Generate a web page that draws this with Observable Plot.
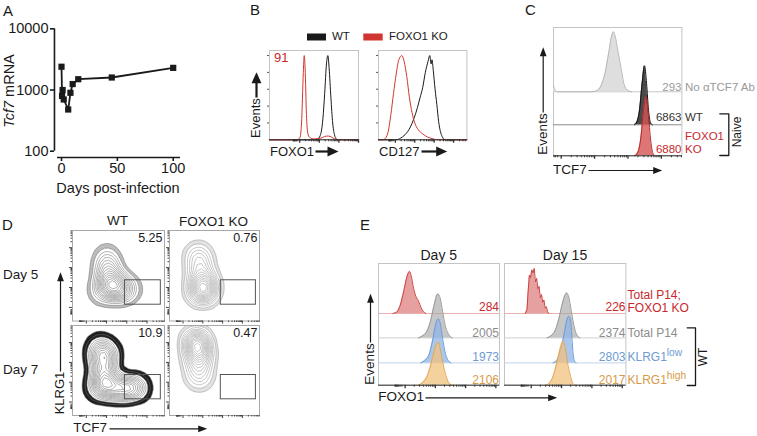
<!DOCTYPE html>
<html><head><meta charset="utf-8">
<script src="https://cdn.jsdelivr.net/npm/d3@7"></script>
<script src="https://cdn.jsdelivr.net/npm/@observablehq/plot@0.6"></script>
<style>
body{margin:0;background:#fff;}
#fig{position:relative;width:757px;height:436px;overflow:hidden;background:#fff;font-family:"Liberation Sans",Arial,Helvetica,sans-serif;}
.t{position:absolute;white-space:nowrap;line-height:1;}
.t sup{font-size:0.85em;vertical-align:0.5em;line-height:0;}
</style></head>
<body><div id="fig"></div>
<script>
// ================= DATA =================
// Panel A: Tcf7 mRNA over time
const tcf7Days = [0, 0.5, 1, 2, 6, 8, 10, 15, 45, 100];
const tcf7Mrna = [2400, 800, 1000, 700, 480, 900, 1250, 1500, 1600, 2300];
const aYTicks = [100, 1000, 10000];
const aXTicks = [0, 50, 100];

// Panel B: histograms [x (% of axis), relative height]
const bFoxo1WT = [[0,0],[50,0],[54,0.01],[57,0.05],[60,0.25],[62,0.55],[64,0.9],[65.6,1],[67,0.85],[69,0.5],[71,0.2],[73,0.06],[75,0.01],[78,0],[100,0]];
const bFoxo1KO = [[0,0],[30,0],[34,0.02],[36,0.2],[38,0.8],[39,1],[40,0.85],[41.5,0.3],[43,0.08],[45,0.03],[50,0.01],[58,0.02],[62,0.04],[66,0.045],[70,0.03],[73,0.01],[78,0],[100,0]];
const bCd127WT = [[0,0],[20,0],[25,0.02],[30,0.06],[36,0.15],[40,0.25],[44,0.38],[47,0.5],[50,0.62],[53,0.8],[56,0.93],[58,1],[59.5,0.9],[60.5,0.95],[62,0.82],[64,0.6],[66,0.42],[68,0.22],[70,0.1],[72,0.04],[75,0],[100,0]];
const bCd127KO = [[0,0],[5,0],[8,0.02],[11,0.1],[14,0.3],[17,0.55],[20,0.78],[23,0.95],[26.4,1],[29,0.93],[32,0.75],[35,0.5],[38,0.32],[41,0.2],[45,0.12],[50,0.07],[56,0.03],[62,0.01],[66,0],[100,0]];
const bFoxo1KOValue = "91";

// Panel C: TCF7 histograms (naive)
const cNoAb = [[0,0.1],[1.5,0.02],[3,0],[30,0],[34,0.02],[37,0.1],[40,0.3],[43,0.65],[45.5,0.95],[46.7,1],[48,0.93],[50,0.7],[53,0.35],[55,0.12],[58,0.02],[61,0]];
const cWT = [[63,0],[65,0.05],[67,0.25],[69,0.7],[70.9,1],[72.5,0.7],[74,0.25],[75.5,0.04],[77,0]];
const cKO = [[63,0],[65.5,0.05],[68,0.3],[70,0.75],[72,1],[73.5,0.8],[75.5,0.3],[77.5,0.04],[79,0]];
const cValues = ["293", "6863", "6880"];
const cNames = ["No αTCF7 Ab", "WT", "FOXO1", "KO"];

// Panel D: contour density seeds (x: TCF7 %, y: KLRG1 %, w: weight)
const dWTDay5 = [{x:37,y:72,w:1.5},{x:38,y:61,w:2.5},{x:40,y:51,w:3},{x:38,y:40,w:3.5},{x:46,y:37,w:4.5},{x:55,y:36,w:3},{x:62,y:35,w:1.5},{x:32,y:32,w:2}];
const dKODay5 = [{x:32,y:75,w:1.5},{x:33,y:64,w:2},{x:35,y:52,w:2},{x:37,y:40,w:3},{x:38,y:32,w:3.5},{x:31,y:33,w:1.5},{x:44,y:37,w:1}];
const dWTDay7 = [{x:30,y:76,w:2.5},{x:32,y:66,w:3.5},{x:34,y:55,w:3},{x:34,y:44,w:3},{x:35,y:34,w:4},{x:45,y:30,w:3},{x:55,y:30,w:3},{x:64,y:31,w:3},{x:72,y:31,w:2},{x:28,y:30,w:2},{x:40,y:70,w:1.5}];
const dKODay7 = [{x:29,y:84,w:2.5},{x:31,y:78,w:3.5},{x:33,y:70,w:2.5},{x:32,y:60,w:2},{x:33,y:50,w:1.5},{x:33,y:40,w:1.2}];
const dGate = {x1: 57, x2: 96, y1: 18, y2: 45};
const dGateValues = ["5.25", "0.76", "10.9", "0.47"];

// Panel E: FOXO1 histograms (Day 5 / Day 15)
const eD5KO = [[12,0],[15,0.03],[18,0.2],[21,0.55],[24,0.92],[25.6,1],[27,0.9],[29,0.6],[31,0.4],[33,0.3],[35,0.15],[37,0.05],[39,0]];
const eD5Total = [[33,0],[36,0.04],[40,0.15],[43,0.38],[46,0.75],[49,1],[51,0.9],[53,0.6],[55,0.3],[58,0.08],[61,0]];
const eD5Low = [[35,0],[38,0.05],[42,0.2],[45,0.55],[48,0.95],[49.6,1],[51,0.9],[53,0.55],[55,0.25],[57,0.08],[60,0]];
const eD5High = [[33,0],[36,0.05],[40,0.2],[43,0.45],[46,0.8],[48,0.97],[49.6,1],[51,0.85],[53,0.55],[55,0.3],[57,0.12],[59,0.03],[61,0]];
const eD15KO = [[17,0],[18.5,0.08],[19.5,0.5],[20.5,0.85],[21.5,0.8],[22.5,0.97],[23.5,0.9],[24.5,1],[25.5,0.7],[26.5,0.78],[27.5,0.55],[28.5,0.6],[29.5,0.35],[30.5,0.42],[31.5,0.25],[32.5,0.3],[33.5,0.12],[34.5,0.15],[35.5,0.04],[36.5,0]];
const eD15Total = [[35,0],[38,0.04],[42,0.18],[45,0.45],[48,0.8],[51.3,1],[53,0.9],[55,0.6],[57,0.3],[59,0.1],[62,0]];
const eD15Low = [[40,0],[43,0.05],[46,0.25],[49,0.6],[51,0.88],[53,1],[54.5,0.9],[55.5,0.55],[56.5,0.2],[57.5,0.05],[59,0]];
const eD15High = [[34,0],[37,0.05],[40,0.2],[43,0.5],[46,0.85],[48.1,1],[50,0.85],[52,0.5],[54,0.25],[56,0.06],[58,0]];
const eD5Values = ["284", "2005", "1973", "2106"];
const eD15Values = ["226", "2374", "2803", "2017"];

// ================= HELPERS =================
const FONT = '"Liberation Sans", Arial, Helvetica, sans-serif';
const baseStyle = {background: "transparent", fontFamily: FONT, overflow: "visible"};
const fig = document.getElementById("fig");
const RED = "#c8282c", GRAY = "#8c8c8c", BLUE = "#6d9bd3", ORANGE = "#d99a48", INK = "#1a1a1a";

function place(node, left, top) {
  node.style.position = "absolute";
  node.style.left = left + "px";
  node.style.top = top + "px";
  fig.appendChild(node);
}
function label(html, x, y, {size = 13, color = INK, anchor = "start", rotate = 0} = {}) {
  const d = document.createElement("div");
  d.className = "t";
  d.innerHTML = html;
  d.style.fontSize = size + "px";
  d.style.color = color;
  d.style.left = x + "px";
  d.style.top = y + "px";
  const tx = anchor === "end" ? "-100%" : anchor === "middle" ? "-50%" : "0";
  d.style.transform = `translate(${tx}, -50%)` + (rotate ? ` rotate(${rotate}deg)` : "");
  fig.appendChild(d);
}
function flowTicks(zero, decade) {
  const minor = [], major = [];
  for (let i = 0; i < 5; i++) for (let k = 1; k <= 9; k++) {
    const v = zero + decade * (i + Math.log10(k));
    if (v <= 100) (k === 1 ? major : minor).push(v);
  }
  for (let k = 2; k <= 9; k++) { const v = zero - decade * 0.35 * Math.log10(k); if (v >= 0) minor.push(v); }
  return {minor, major};
}
function bottomTicks(t) {
  return [
    Plot.axisX(t.minor, {tickSize: 2, tickFormat: () => "", label: null, stroke: "#333"}),
    Plot.axisX(t.major, {tickSize: 3.5, tickFormat: () => "", label: null, stroke: "#333", strokeWidth: 1.3})
  ];
}
function ridge(pts, base, amp, {fill, fillOpacity = 1, stroke, curve = "monotone-x", strokeWidth = 1}) {
  const out = [];
  if (fill) out.push(Plot.areaY(pts, {x: d => d[0], y1: () => base, y2: d => base + amp * d[1], fill, fillOpacity, curve}));
  out.push(Plot.lineY(pts, {x: d => d[0], y: d => base + amp * d[1], stroke, strokeWidth, curve}));
  return out;
}
function histPlot({box, yMax, marks, leftTicks = null, bottom}) {
  const [x0, y0, x1, y1] = box, pad = 12;
  const svg = Plot.plot({
    width: x1 - x0 + 2 * pad, height: y1 - y0 + 2 * pad, margin: pad,
    x: {domain: [0, 100]},
    y: leftTicks ? {domain: [0, yMax]} : {domain: [0, yMax], axis: null},
    style: baseStyle,
    marks: [
      Plot.frame({stroke: "#c4c4c4"}),
      ...marks,
      Plot.ruleY([0], {stroke: "#333", strokeWidth: 1}),
      ...bottomTicks(bottom),
      ...(leftTicks ? [Plot.axisY(leftTicks, {tickSize: 2, tickFormat: () => "", label: null, stroke: "#555"})] : [])
    ]
  });
  place(svg, x0 - pad, y0 - pad);
}
function dPlot({box, seeds, halo, haloEdge, haloFrac, contour}) {
  const [x0, y0, x1, y1] = box, pad = 8;
  const t = flowTicks(15, 22);
  const svg = Plot.plot({
    width: x1 - x0 + 2 * pad, height: y1 - y0 + 2 * pad, margin: pad,
    x: {domain: [0, 100]}, y: {domain: [0, 100]},
    color: {type: "linear", interpolate: (u) => (u < 0.03 ? haloEdge : u < haloFrac ? halo : "#ffffff")},
    style: baseStyle,
    marks: [
      Plot.density(seeds, {x: "x", y: "y", weight: "w", bandwidth: 6.5, thresholds: 16, fill: "density", clip: true}),
      Plot.density(seeds, {x: "x", y: "y", weight: "w", bandwidth: 6.5, thresholds: 16, stroke: contour, strokeWidth: 0.55, clip: true}),
      Plot.rect([dGate], {x1: "x1", x2: "x2", y1: "y1", y2: "y2", stroke: "#555", fill: "none", strokeWidth: 1}),
      Plot.frame({stroke: "#a8a8a8"}),
      Plot.axisX(t.minor, {tickSize: 1.5, tickFormat: () => "", label: null, stroke: "#444"}),
      Plot.axisX(t.major, {tickSize: 3, tickFormat: () => "", label: null, stroke: "#444"}),
      Plot.axisY(t.minor, {tickSize: 1.5, tickFormat: () => "", label: null, stroke: "#444"}),
      Plot.axisY(t.major, {tickSize: 3, tickFormat: () => "", label: null, stroke: "#444"})
    ]
  });
  place(svg, x0 - pad, y0 - pad);
}

// ================= PANEL A =================
{
  const data = tcf7Days.map((d, i) => ({day: d, mrna: tcf7Mrna[i]}));
  const svg = Plot.plot({
    width: 200, height: 200,
    marginLeft: 54, marginRight: 20, marginTop: 20, marginBottom: 43,
    x: {domain: [0, 100], range: [61, 172.7]},
    y: {type: "log", domain: [100, 10000], range: [150.7, 28.3]},
    style: {...baseStyle, fontSize: "14.5px"},
    marks: [
      Plot.ruleX([-6.3], {y1: 100, y2: 10000, strokeWidth: 1.6, stroke: INK}),
      Plot.ruleY([79], {x1: -3.6, x2: 106.5, strokeWidth: 1.6, stroke: INK}),
      Plot.axisY(aYTicks, {tickSize: 4, tickPadding: 2, tickFormat: d => String(d), fontSize: 14.5, label: null, strokeWidth: 1.6, color: INK}),
      Plot.axisX(aXTicks, {tickSize: 4, tickPadding: 1, fontSize: 14.5, label: null, strokeWidth: 1.6, color: INK}),
      Plot.line(data, {x: "day", y: "mrna", stroke: INK, strokeWidth: 1.8}),
      Plot.dot(data, {x: "day", y: "mrna", symbol: "square", r: 3.5, fill: INK, stroke: "none"})
    ]
  });
  place(svg, 0, 0);
  label("A", 3, 10, {size: 15});
  label("Days post-infection", 118, 188, {size: 14.5, anchor: "middle"});
  label("<i>Tcf7</i> mRNA", 9, 91, {size: 14.5, anchor: "middle", rotate: -90});
}

// ================= PANEL B =================
histPlot({box: [269.3, 50, 358.3, 139.3], yMax: 1.06, leftTicks: [0.2, 0.4, 0.6, 0.8, 1.0], bottom: flowTicks(34, 22),
  marks: [...ridge(bFoxo1WT, 0, 1, {stroke: INK}), ...ridge(bFoxo1KO, 0, 1, {stroke: "#d0352f"})]});
histPlot({box: [378.3, 50, 466.7, 139.3], yMax: 1.06, leftTicks: [0.2, 0.4, 0.6, 0.8, 1.0], bottom: flowTicks(19, 22),
  marks: [...ridge(bCd127WT, 0, 1, {stroke: INK}), ...ridge(bCd127KO, 0, 1, {stroke: "#d0352f"})]});
label("B", 250, 9, {size: 15});
label(bFoxo1KOValue, 274, 57, {size: 13, color: RED});
label("WT", 332, 37, {size: 11.5});
label("FOXO1 KO", 389, 37, {size: 11.5});
label("Events", 255, 117.5, {size: 13, anchor: "middle", rotate: -90});
label("FOXO1", 270, 151, {size: 13});
label("CD127", 379, 151, {size: 13});

// ================= PANEL C =================
histPlot({box: [553.3, 26.7, 681.7, 155], yMax: 128.3, bottom: flowTicks(6, 26),
  marks: [
    Plot.ruleY([64], {stroke: "#c8c8c8"}),
    ...ridge(cNoAb, 64, 60, {fill: "#dedede", stroke: "#b8b8b8"}),
    Plot.ruleY([31], {stroke: "#8a8a8a"}),
    ...ridge(cWT, 31, 59, {fill: "#4a4a4a", stroke: "#111"}),
    ...ridge(cKO, 0, 59, {fill: "#d65454", fillOpacity: 0.8, stroke: "#b32a2a"})
  ]});
label("C", 525, 9, {size: 15});
label(cValues[0], 681.5, 87.5, {size: 11.5, color: "#9a9a9a", anchor: "end"});
label(cValues[1], 681.5, 118.3, {size: 11.5, color: "#333", anchor: "end"});
label(cValues[2], 681.5, 150, {size: 11.5, color: RED, anchor: "end"});
label(cNames[0], 685, 87.5, {size: 11.5, color: "#9a9a9a"});
label(cNames[1], 685, 118.3, {size: 11.5, color: "#333"});
label(cNames[2], 685, 136.7, {size: 11.5, color: RED});
label(cNames[3], 685, 150, {size: 11.5, color: RED});
label("Naive", 736.5, 131.5, {size: 12, anchor: "middle", rotate: -90});
label("Events", 542.7, 134, {size: 13.5, anchor: "middle", rotate: -90});
label("TCF7", 553, 170, {size: 13.5});

// ================= PANEL D =================
dPlot({box: [72, 229.5, 164, 320], seeds: dWTDay5, halo: "#bdbdbd", haloEdge: "#d4d4d4", haloFrac: 0.13, contour: "#707070"});
dPlot({box: [169, 229.5, 259, 320], seeds: dKODay5, halo: "#e2e2e2", haloEdge: "#ececec", haloFrac: 0.08, contour: "#999"});
dPlot({box: [72, 325, 164, 415], seeds: dWTDay7, halo: "#1e1e1e", haloEdge: "#5a5a5a", haloFrac: 0.2, contour: "#707070"});
dPlot({box: [169, 325, 259, 415], seeds: dKODay7, halo: "#e2e2e2", haloEdge: "#ececec", haloFrac: 0.08, contour: "#999"});
label("D", 2, 223.5, {size: 15});
label("WT", 117.5, 221, {size: 13.5, anchor: "middle"});
label("FOXO1 KO", 213.5, 221.5, {size: 13.5, anchor: "middle"});
label("Day 5", 3, 275, {size: 13.5});
label("Day 7", 3, 370, {size: 13.5});
label(dGateValues[0], 162.5, 237.5, {size: 12.5, anchor: "end"});
label(dGateValues[1], 257.5, 237.5, {size: 12.5, anchor: "end"});
label(dGateValues[2], 162.5, 333, {size: 12.5, anchor: "end"});
label(dGateValues[3], 257.5, 333, {size: 12.5, anchor: "end"});
label("KLRG1", 58.5, 392.5, {size: 13, anchor: "middle", rotate: -90});
label("TCF7", 73.3, 428.3, {size: 13.5});

// ================= PANEL E =================
const eLanes = [71.7, 47.3, 22.3, 0];
const eStyles = [
  {fill: "#d66060", fillOpacity: 0.6, stroke: "#cc4444", base: "#eab0b0"},
  {fill: "#a8a8a8", fillOpacity: 0.65, stroke: "#999", base: "#cfcfcf"},
  {fill: "#8fb6e6", fillOpacity: 0.75, stroke: "#6b9bd8", base: "#c0d3ec"},
  {fill: "#f2c27e", fillOpacity: 0.75, stroke: "#e0a55a", base: null}
];
function eMarks(series, amps, jaggedFirst) {
  const m = [];
  series.forEach((s, i) => {
    const st = eStyles[i];
    if (st.base) m.push(Plot.ruleY([eLanes[i]], {stroke: st.base}));
    m.push(...ridge(s, eLanes[i], amps[i], {fill: st.fill, fillOpacity: st.fillOpacity, stroke: st.stroke, curve: (i === 0 && jaggedFirst) ? "linear" : "monotone-x"}));
  });
  return m;
}
histPlot({box: [378.3, 263.3, 499.3, 385], yMax: 121.7, bottom: flowTicks(22, 25),
  marks: eMarks([eD5KO, eD5Total, eD5Low, eD5High], [42, 44, 44, 43], false)});
histPlot({box: [504.3, 263.3, 625.7, 385], yMax: 121.7, bottom: flowTicks(22, 25),
  marks: eMarks([eD15KO, eD15Total, eD15Low, eD15High], [45, 45, 46.7, 44], true)});
label("E", 360, 223.7, {size: 15});
label("Day 5", 438.8, 254.5, {size: 14, anchor: "middle"});
label("Day 15", 565, 254.5, {size: 14, anchor: "middle"});
const eValY = [307.3, 333.3, 356.7, 380];
const eColors = [RED, GRAY, BLUE, ORANGE];
eD5Values.forEach((v, i) => label(v, 499, eValY[i], {size: 12, color: eColors[i], anchor: "end"}));
eD15Values.forEach((v, i) => label(v, 625.5, eValY[i], {size: 12, color: eColors[i], anchor: "end"}));
label("Total P14;", 627.5, 295, {size: 12, color: RED});
label("FOXO1 KO", 627.5, 308.3, {size: 12, color: RED});
label("Total P14", 627.5, 333.3, {size: 12, color: GRAY});
label("KLRG1<sup>low</sup>", 627.5, 357, {size: 12, color: BLUE});
label("KLRG1<sup>high</sup>", 627.5, 380, {size: 12, color: ORANGE});
label("WT", 703, 356.7, {size: 12, anchor: "middle", rotate: -90});
label("Events", 370, 364, {size: 13.5, anchor: "middle", rotate: -90});
label("FOXO1", 378.3, 397.3, {size: 13.5});

// ================= OVERLAY: arrows, brackets, legend swatches =================
const arrowsBig = [
  {x1: 256, y1: 97, x2: 256, y2: 71.7, rot: 0},
  {x1: 315, y1: 151, x2: 338, y2: 151, rot: 90},
  {x1: 421, y1: 151, x2: 446.7, y2: 151, rot: 90}
];
const arrowsThin = [
  {x1: 542.7, y1: 112, x2: 542.7, y2: 46.7, rot: 0},
  {x1: 588, y1: 170, x2: 661.7, y2: 170, rot: 90},
  {x1: 60, y1: 371, x2: 60, y2: 271.7, rot: 0},
  {x1: 109, y1: 428.3, x2: 206.7, y2: 428.3, rot: 90},
  {x1: 370, y1: 342, x2: 370, y2: 293.3, rot: 0},
  {x1: 425, y1: 397.3, x2: 556.7, y2: 397.3, rot: 90}
];
const brackets = [
  {id: "C", x: 719.3, y: 113.3}, {id: "C", x: 728.3, y: 113.3}, {id: "C", x: 728.3, y: 155}, {id: "C", x: 719.3, y: 155},
  {id: "E", x: 686.7, y: 327.3}, {id: "E", x: 695, y: 327.3}, {id: "E", x: 695, y: 385}, {id: "E", x: 686.7, y: 385}
];
const legendSwatches = [
  {x1: 307, x2: 326, y1: 33.5, y2: 40.5, fill: "#1a1a1a"},
  {x1: 363.3, x2: 382.7, y1: 33.5, y2: 40.5, fill: "#d0352f"}
];
function headSymbol(widthRatio) {
  return {draw(ctx, size) {
    const r = Math.sqrt(size / Math.PI);
    ctx.moveTo(0, 0); ctx.lineTo(r * widthRatio, r); ctx.lineTo(-r * widthRatio, r); ctx.closePath();
  }};
}
function shaft(a, L) {
  const dx = a.x2 - a.x1, dy = a.y2 - a.y1, n = Math.hypot(dx, dy);
  return {...a, ex: a.x2 - dx / n * (L - 1), ey: a.y2 - dy / n * (L - 1)};
}
{
  const big = arrowsBig.map(a => shaft(a, 11));
  const thin = arrowsThin.map(a => shaft(a, 9));
  const svg = Plot.plot({
    width: 757, height: 436, margin: 0,
    x: {type: "identity", axis: null}, y: {type: "identity", axis: null},
    style: {...baseStyle, pointerEvents: "none"},
    marks: [
      Plot.rect(legendSwatches, {x1: "x1", x2: "x2", y1: "y1", y2: "y2", fill: "fill"}),
      Plot.link(big, {x1: "x1", y1: "y1", x2: "ex", y2: "ey", stroke: INK, strokeWidth: 2.2}),
      Plot.dot(big, {x: "x2", y: "y2", r: 11, rotate: "rot", symbol: headSymbol(0.45), fill: INK, stroke: "none"}),
      Plot.link(thin, {x1: "x1", y1: "y1", x2: "ex", y2: "ey", stroke: INK, strokeWidth: 1.2}),
      Plot.dot(thin, {x: "x2", y: "y2", r: 9, rotate: "rot", symbol: headSymbol(0.38), fill: INK, stroke: "none"}),
      Plot.line(brackets, {x: "x", y: "y", z: "id", stroke: INK, strokeWidth: 1.3})
    ]
  });
  place(svg, 0, 0);
}
</script>
</body></html>
